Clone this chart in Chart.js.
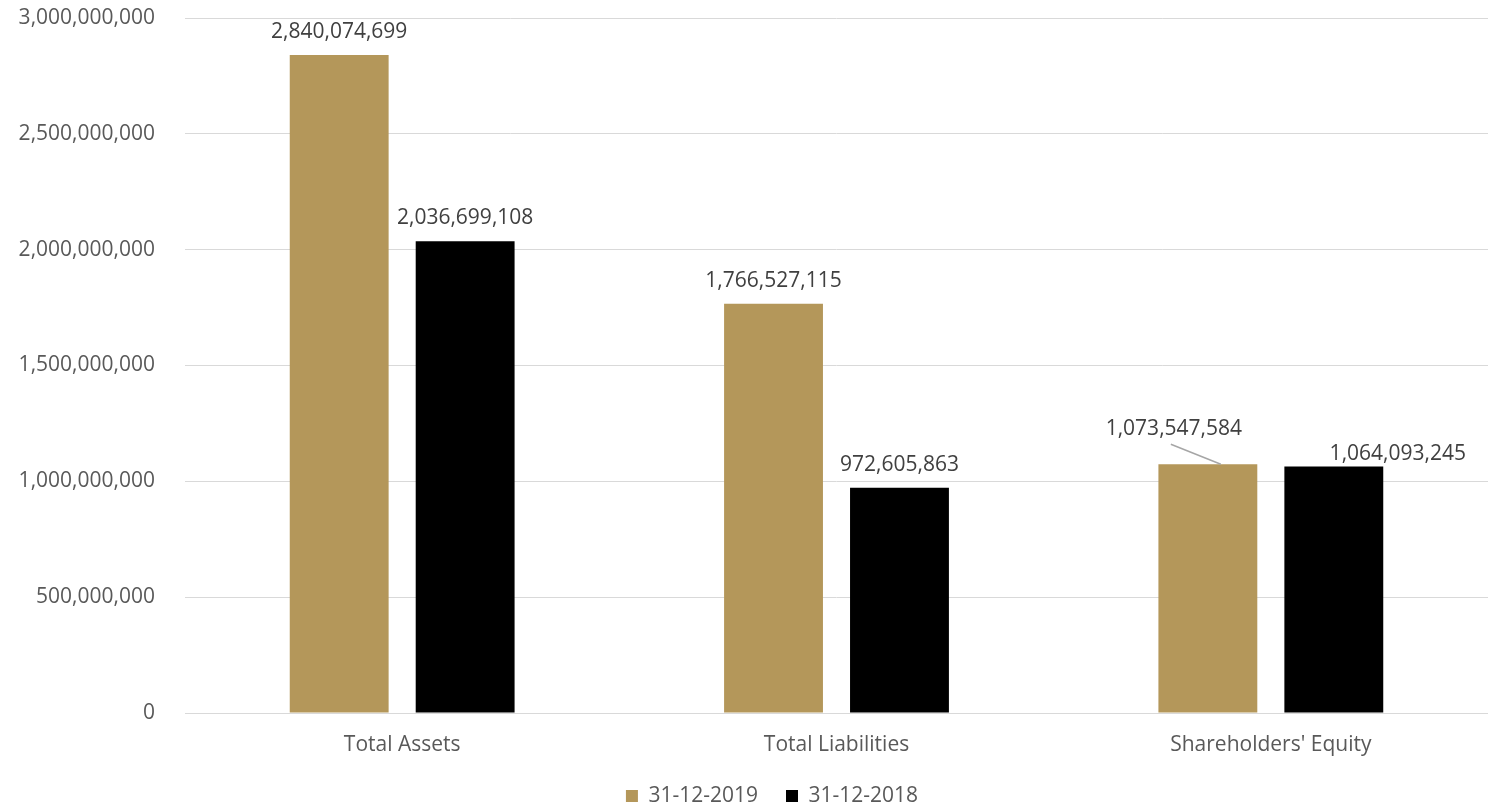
<!DOCTYPE html>
<html>
<head>
<meta charset="utf-8">
<script src="https://cdn.jsdelivr.net/npm/chart.js@4"></script>
<style>
  html, body { margin: 0; padding: 0; background: #fff; }
  #wrap { width: 1488px; height: 807px; }
</style>
</head>
<body>
<div id="wrap"><canvas id="grafico"></canvas></div>
<script>
// ================== Datos ==================
const CATEGORIAS = ["Total Assets", "Total Liabilities", "Shareholders' Equity"];
const SERIE_2019 = [2840074699, 1766527115, 1073547584];
const SERIE_2018 = [2036699108, 972605863, 1064093245];
const ETIQUETAS = ["31-12-2019", "31-12-2018"];

// desplazamiento de algunas etiquetas (para que no se pisen)
const DESPLAZA = {
  "0-2": { dx: -34, dy: -12, linea: true },
  "1-2": { dx: 64, dy: 11 }
};

const fmt = v => v.toLocaleString("en-US");
const TXT = "#595959";
const FUENTE = "'Open Sans', 'Liberation Sans', sans-serif";

// ================== Plugin de etiquetas ==================
const etiquetas = {
  id: "etiquetas",
  afterLayout(chart) {
    // la leyenda del original no queda centrada en el lienzo
    chart.legend.left += 28;
    chart.legend.right += 28;
  },
  afterDatasetsDraw(chart) {
    const ctx = chart.ctx;
    ctx.save();
    ctx.font = "21px " + FUENTE;
    ctx.fillStyle = "#404040";
    ctx.textAlign = "center";
    ctx.textBaseline = "middle";
    chart.data.datasets.forEach((ds, i) => {
      chart.getDatasetMeta(i).data.forEach((bar, j) => {
        const d = DESPLAZA[i + "-" + j] || { dx: 0, dy: 0 };
        const x = bar.x + d.dx, y = bar.y - 23 + d.dy;
        if (d.linea) {
          ctx.strokeStyle = "#a6a6a6";
          ctx.lineWidth = 1.5;
          ctx.beginPath();
          ctx.moveTo(x - 3, y + 15);
          ctx.lineTo(bar.x + 13, bar.y);
          ctx.stroke();
        }
        ctx.fillText(fmt(ds.data[j]), x, y);
      });
    });
    ctx.restore();
  }
};

// ================== Gráfica ==================
new Chart(document.getElementById("grafico"), {
  type: "bar",
  data: {
    labels: CATEGORIAS,
    datasets: [
      { label: ETIQUETAS[0], data: SERIE_2019, backgroundColor: "#B4975A" },
      { label: ETIQUETAS[1], data: SERIE_2018, backgroundColor: "#000000" }
    ]
  },
  options: {
    responsive: true,
    maintainAspectRatio: false,
    animation: false,
    categoryPercentage: 0.58,
    barPercentage: 0.785,
    layout: { padding: { top: 0, right: 0, left: 0, bottom: -9.5 } },
    plugins: {
      tooltip: { enabled: false },
      legend: {
        position: "bottom",
        labels: {
          boxWidth: 12, boxHeight: 12, padding: 28,
          color: TXT, font: { family: FUENTE, size: 21 }
        }
      }
    },
    scales: {
      x: {
        grid: { display: false },
        border: { color: "#d9d9d9" },
        ticks: { color: TXT, font: { family: FUENTE, size: 21 }, padding: 11 },
        afterFit: s => { s.height = 44.5; }
      },
      y: {
        min: 0, max: 3000000000,
        grid: { color: "#d9d9d9", drawTicks: false },
        border: { display: false },
        ticks: {
          stepSize: 500000000, padding: 30,
          color: TXT, font: { family: FUENTE, size: 21 },
          callback: v => fmt(v)
        },
        afterFit: s => { s.width = 185; s.paddingTop = 18; s.paddingBottom = 0; }
      }
    }
  },
  plugins: [etiquetas]
});
</script>
</body>
</html>
